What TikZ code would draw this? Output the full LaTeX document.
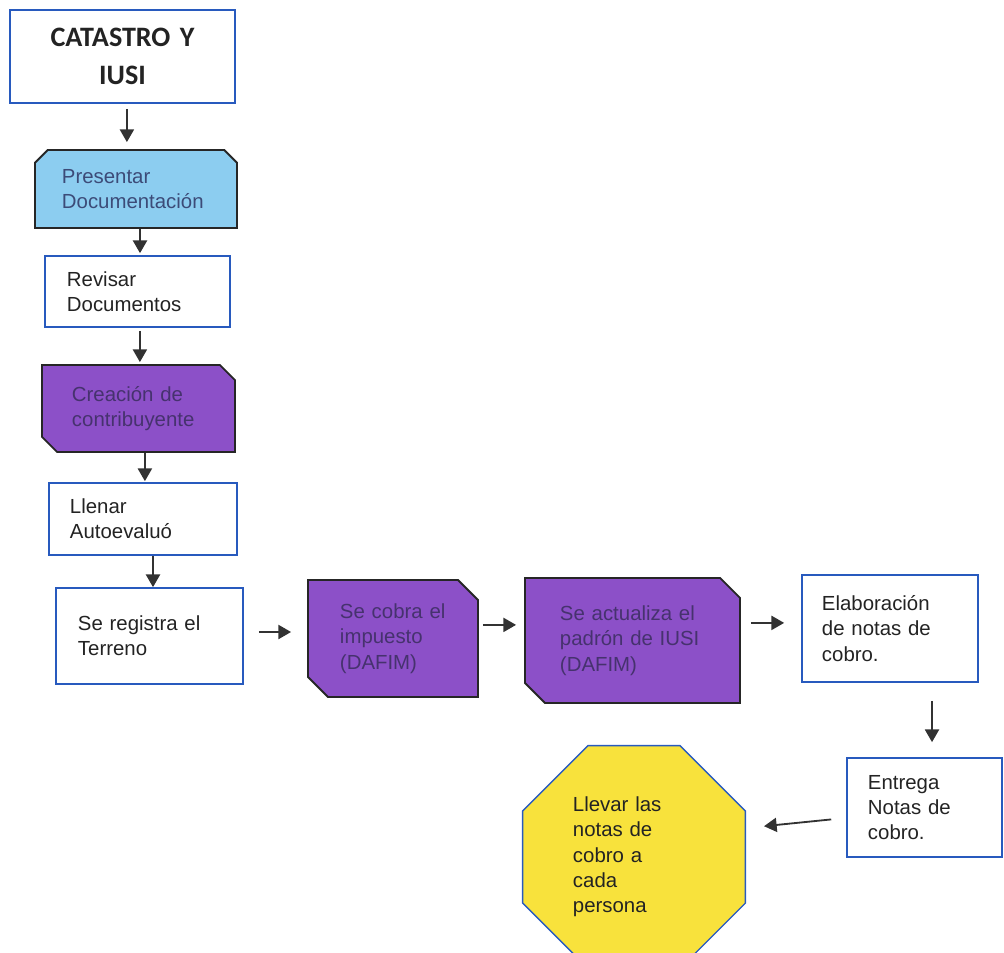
\documentclass[tikz,border=0pt]{standalone}
\usepackage{fontspec}
\setmainfont{Liberation Sans}
\newfontfamily\titlefont{Carlito}
\usetikzlibrary{shapes.misc,shapes.geometric,arrows.meta}

\definecolor{boxblue}{RGB}{40,90,190}
\definecolor{lightblue}{RGB}{140,205,240}
\definecolor{procpurple}{RGB}{140,80,200}
\definecolor{stopyellow}{RGB}{248,226,60}
\definecolor{arrowgray}{RGB}{50,50,50}
\definecolor{textgray}{RGB}{35,35,35}
\definecolor{pretext}{RGB}{60,75,120}
\definecolor{purpletext}{RGB}{70,50,110}

\tikzset{
  every node/.style={font=\fontsize{14.5}{18}\selectfont, text=textgray},
  stepbox/.style={draw=boxblue, line width=1.2pt, fill=white, align=left, inner sep=0pt},
  cutbox/.style={chamfered rectangle, draw=black!85, line width=1.3pt, align=left, inner sep=0pt},
  arr/.style={draw=arrowgray, line width=1.3pt, -{Triangle[width=10pt,length=9pt]}},
}

\begin{document}
\begin{tikzpicture}[x=0.025cm, y=-0.025cm]
\useasboundingbox (0,0) rectangle (1004,952);

% columna de la izquierda
\node[stepbox, align=center, text width=5cm, minimum width=5.625cm, minimum height=2.325cm,
  font=\titlefont\bfseries\fontsize{20}{27}\selectfont] (cat) at (122.5,56.5) {CATASTRO Y\\IUSI};
\node[cutbox, fill=lightblue, text=pretext, chamfered rectangle corners={north west,north east},
  chamfered rectangle sep=0.16cm, minimum width=5.05cm, minimum height=1.95cm, text width=3.7cm]
  (pres) at (136,189) {Presentar\\Documentación};
\node[stepbox, minimum width=4.625cm, minimum height=1.775cm, text width=3.525cm] (rev) at (137.5,291.5) {Revisar\\Documentos};
\node[cutbox, fill=procpurple, text=purpletext, chamfered rectangle corners={north east,south west},
  chamfered rectangle sep=0.19cm, minimum width=4.825cm, minimum height=2.175cm, text width=3.325cm]
  (crea) at (138.5,408.5) {Creación de\\contribuyente};
\node[stepbox, minimum width=4.7cm, minimum height=1.8cm, text width=3.65cm] (llen) at (143,519) {Llenar\\Autoevaluó};
\node[stepbox, minimum width=4.675cm, minimum height=2.4cm, text width=3.575cm] (reg) at (149.5,636) {Se registra el\\Terreno};

% fila de abajo
\node[cutbox, fill=procpurple, text=purpletext, chamfered rectangle corners={north east,south west},
  chamfered rectangle sep=0.25cm, minimum width=4.25cm, minimum height=2.925cm, text width=2.65cm]
  (cob) at (393,638.5) {Se cobra el\\impuesto\\(DAFIM)};
\node[cutbox, fill=procpurple, text=purpletext, chamfered rectangle corners={north east,south west},
  chamfered rectangle sep=0.25cm, minimum width=5.375cm, minimum height=3.125cm, text width=3.625cm]
  (act) at (632.5,640.5) {Se actualiza el\\padrón de IUSI\\(DAFIM)};
\node[stepbox, minimum width=4.4cm, minimum height=2.675cm, text width=3.4cm] (elab) at (890,628.5) {Elaboración\\de notas de\\cobro.};
\node[stepbox, minimum width=3.875cm, minimum height=2.475cm, text width=2.825cm] (ent) at (924.5,807.5) {Entrega\\Notas de\\cobro.};
\node[regular polygon, regular polygon sides=8, draw=boxblue, line width=1pt, fill=stopyellow,
  minimum size=6.025cm, inner sep=0pt, text width=3.05cm, align=left]
  (oct) at (634,857) {Llevar las\\notas de\\cobro a\\cada\\persona};

% flechas
\draw[arr, shorten <=0.125cm, shorten >=0.175cm] ([xshift=0.11cm]cat.south) -- ([xshift=0.11cm]cat.south |- pres.north);
\draw[arr, shorten >=0.05cm] ([xshift=0.1cm]pres.south) -- ([xshift=0.1cm]pres.south |- rev.north);
\draw[arr, shorten <=0.075cm, shorten >=0.05cm] ([xshift=0.06cm]rev.south) -- ([xshift=0.06cm]rev.south |- crea.north);
\draw[arr, shorten >=0.025cm] ([xshift=0.16cm]crea.south) -- ([xshift=0.16cm]crea.south |- llen.north);
\draw[arr] ([xshift=0.25cm]llen.south) -- ([xshift=0.25cm]llen.south |- reg.north);
\draw[arr, shorten <=0.375cm, shorten >=0.4cm] ([yshift=0.1cm]reg.east) -- ([yshift=0.1cm]reg.east -| cob.west);
\draw[arr, shorten <=0.1cm, shorten >=0.2cm] ([yshift=0.34cm]cob.east) -- ([yshift=0.34cm]cob.east -| act.west);
\draw[arr, shorten <=0.25cm, shorten >=0.425cm] ([yshift=0.44cm]act.east) -- ([yshift=0.44cm]act.east -| elab.west);
\draw[arr, shorten <=0.45cm, shorten >=0.375cm] ([xshift=1.05cm]elab.south) -- ([xshift=1.05cm]elab.south |- ent.north);
\draw[arr, shorten <=0.375cm, shorten >=0.45cm] ([yshift=-0.26cm]ent.west) -- ([yshift=0.725cm]oct.east);
\end{tikzpicture}
\end{document}
